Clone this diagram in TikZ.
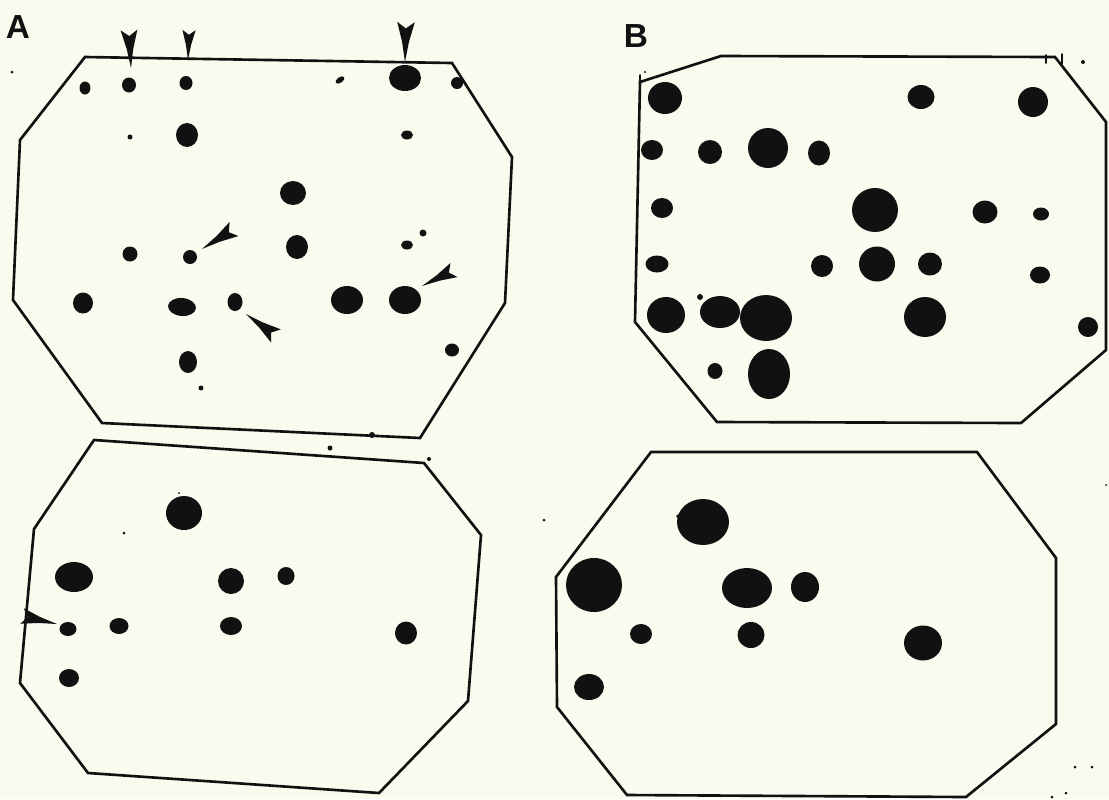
\documentclass[tikz,border=0pt]{standalone}
\usepackage{fontspec}
\setmainfont{Liberation Sans}
\usetikzlibrary{calc}
\definecolor{gelink}{HTML}{111111}
\definecolor{gelpaper}{HTML}{FAFAEE}

% 箭头标记：尖端 #1，尾部 #2
\newcommand{\pointer}[2]{%
  \path (#2) -- (#1) coordinate[pos=0.5] (pmid);
  \fill[gelink] (#1) -- ($(pmid)!0.17!90:(#1)$) -- ($(#2)!0.22!90:(#1)$)
    -- ($(#2)!0.16!(#1)$) -- ($(#2)!0.22!-90:(#1)$)
    -- ($(pmid)!0.17!-90:(#1)$) -- cycle;}

\begin{document}
\begin{tikzpicture}[
  x=0.02cm, y=-0.02cm,
  line cap=round, line join=round,
  gel/.style  = {draw=gelink, line width=1.5pt, line join=miter},
  spot/.style = {fill=gelink},
  tick/.style = {draw=gelink, line width=1.1pt},
  tag/.style  = {font=\fontsize{19}{19}\selectfont\bfseries, text=gelink, inner sep=0pt}
]
\useasboundingbox (0,0) rectangle (1109,799);
\fill[gelpaper] (0,0) rectangle (1109,799);

\node[tag] (labA) at (18,27) {A};
\node[tag] (labB) at (636,36) {B};

% 凝胶 A（上）
\draw[gel] (85,57) -- (452,63) -- (512,157) -- (505,303) -- (420,438)
  -- (102,423) -- (13,300) -- (20,140) -- cycle;
\foreach \x/\y/\rx/\ry in {85/88/5.5/6.5, 129/85/7/7.5, 186/83/6.5/7,
    130/137/2.5/2.5, 187/135/11/12, 130/254/7.5/7.5, 190/257/7/7,
    83/303/10/10.5, 235/302/7.5/9, 188/362/9/11, 201/388/2.5/2.5,
    407/135/6/4.5, 293/193/13/12, 297/247/11/12, 407/245/6/4.5,
    423/233/3.5/3.5, 347/300/16/14, 405/300/16/14, 452/350/7/6.5,
    405/78/16/13, 457/83/6/6, 372/435/3/3}
  \fill[spot] (\x,\y) ellipse [x radius=\rx, y radius=\ry];
\fill[spot] (340,80) ellipse [x radius=5, y radius=2.8, rotate=35];
\fill[spot] (182,307) ellipse [x radius=14, y radius=9, rotate=-5];
\foreach \tx/\ty/\hx/\hy in {131/68/129/30, 188/60/189/30, 405/62/406/22,
    202/249/234/229, 246/314/276/336, 422/286/454/270}
  \pointer{\tx,\ty}{\hx,\hy};

% 凝胶 A（下）
\draw[gel] (94,440) -- (424,463) -- (481,535) -- (468,701) -- (379,793)
  -- (88,773) -- (20,683) -- (34,529) -- cycle;
\foreach \x/\y/\rx/\ry in {184/513/18/17, 74/577/19/15, 231/581/13/13,
    286/576/8.5/9, 68/629/8.5/7, 119/626/9.5/8, 231/626/11/9,
    406/633/11/11.5, 69/678/10/9}
  \fill[spot] (\x,\y) ellipse [x radius=\rx, y radius=\ry];
\pointer{57,624}{22,616};

% 凝胶 B（上）
\draw[gel] (721,56) -- (1055,57) -- (1106,122) -- (1106,350) -- (1021,423)
  -- (717,422) -- (635,322) -- (640,82) -- cycle;
\draw[tick] (640,75) -- (640,84);
\foreach \x/\y/\rx/\ry in {665/98/17/16, 921/97/13.5/12, 1033/102/15/15,
    652/150/11/10, 710/152/12/12, 768/148/20/20, 819/153/11/12.5,
    662/208/11/10, 875/210/23/22, 985/212/12.5/11.5, 1041/214/8/6.5,
    657/264/11.5/8.5, 822/266/11/11, 877/264/18/17.5, 930/264/12/11.5,
    1040/275/10/8.5, 666/315/19/18, 720/312/20/16, 766/318/26/23,
    700/297/3/3, 925/317/21/20, 1088/327/10/10, 715/371/7.5/8,
    769/374/21/25}
  \fill[spot] (\x,\y) ellipse [x radius=\rx, y radius=\ry];
\draw[tick] (1046,55) -- (1046,63);
\draw[tick] (1062,54) -- (1062,64);
\fill[spot] (1083,62) circle [radius=2];

% 凝胶 B（下）
\draw[gel] (651,452) -- (977,452) -- (1056,558) -- (1056,724) -- (966,797)
  -- (627,795) -- (557,707) -- (556,577) -- cycle;
\foreach \x/\y/\rx/\ry in {703/522/26/23, 594/585/28/27, 747/588/25/20,
    805/587/14/15, 641/634/11/10, 751/635/13.5/13, 923/643/19/17.5,
    589/687/15/13}
  \fill[spot] (\x,\y) ellipse [x radius=\rx, y radius=\ry];
\fill[spot] (676,516) -- (684,510) -- (684,524) -- cycle;

% 杂点
\foreach \x/\y/\r in {12/72/1.5, 330/448/2.5, 429/459/2, 179/493/1,
    124/533/1.5, 645/72/1.2, 544/520/1.5, 1075/767/1.5, 1092/767/1.5,
    1052/797/1.5, 1066/793/1.5, 1106/485/1}
  \fill[spot] (\x,\y) circle [radius=\r];
\end{tikzpicture}
\end{document}
